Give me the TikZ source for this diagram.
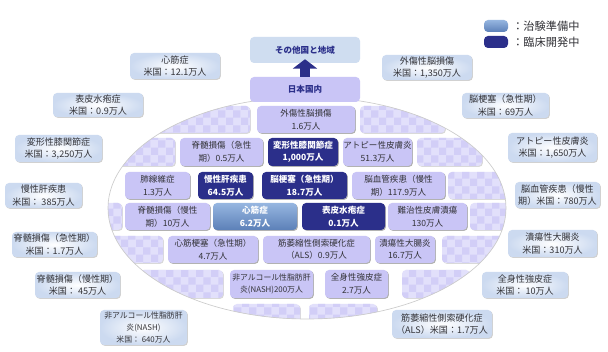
\documentclass[tikz,border=0pt]{standalone}
\usepackage{fontspec}
\setmainfont{Noto Sans CJK JP}
\usetikzlibrary{shadows,patterns,arrows.meta}
\definecolor{lav}{RGB}{201,197,246}
\definecolor{navy}{RGB}{43,47,138}
\definecolor{lbA}{RGB}{150,182,224}
\definecolor{lbB}{RGB}{92,128,184}
\definecolor{emp}{RGB}{226,224,251}
\definecolor{empc}{RGB}{210,206,247}
\definecolor{usc}{RGB}{204,218,240}
\definecolor{oth}{RGB}{207,221,240}
\definecolor{txt}{RGB}{50,50,55}
\newcommand\fbrick{\fontsize{6.4pt}{9.4pt}\selectfont}
\newcommand\fus{\fontsize{6.8pt}{9.4pt}\selectfont}
\newcommand\fsmall{\fontsize{5.9pt}{9.2pt}\selectfont}
\newcommand\flg{\fontsize{8.4pt}{10pt}\selectfont}
\newcommand\bx[7]{\node[#1, minimum width={(#4-#2)*0.75pt}, minimum height={(#5-#3)*0.75pt}] (#6) at ({(#2+#4)/2},{(#3+#5)/2}) {#7};}
\tikzset{
  box/.style={rounded corners=3pt, inner sep=0pt, align=center, font=\fbrick, text=txt},
  shad/.style={drop shadow={shadow xshift=.7pt, shadow yshift=-.7pt, opacity=#1, fill=black}},
  lavb/.style={box, fill=lav, shad=.3},
  darkb/.style={box, fill=navy, text=white, font=\fbrick\bfseries, shad=.3},
  blueb/.style={box, top color=lbA, bottom color=lbB, text=white, font=\fbrick\bfseries, shad=.3},
  emptyb/.style={box, fill=emp, shad=.15, postaction={pattern=checkerboard, pattern color=empc}},
  usb/.style={box, font=\fus, inner color=white, outer color=usc, shad=.18},
}
\begin{document}
\begin{tikzpicture}[x=0.75pt,y=-0.75pt]
\useasboundingbox[fill=white] (0,0) rectangle (608,352);
% ellipse with bricks
\begin{scope}
\clip (307,208) ellipse [x radius=199, y radius=111];
\bx{emptyb}{150}{106}{250}{133}{e1a}{}
\bx{lavb}{257}{106}{355}{133}{b11}{外傷性脳損傷\\1.6万人}
\bx{emptyb}{360}{106}{445}{133}{e1b}{}
\bx{emptyb}{100}{138}{175}{166}{e2a}{}
\bx{lavb}{180}{138}{263}{166}{b21}{脊髄損傷（急性\\期）0.5万人}
\bx{darkb}{268}{138}{338}{166}{d22}{変形性膝関節症\\1,000万人}
\bx{lavb}{343}{138}{412}{166}{b23}{アトピー性皮膚炎\\51.3万人}
\bx{emptyb}{417}{138}{482}{166}{e2b}{}
\bx{lavb}{125}{172}{190}{199}{b31}{肺線維症\\1.3万人}
\bx{darkb}{198}{172}{253}{199}{d32}{慢性肝疾患\\64.5万人}
\bx{darkb}{262}{172}{347}{199}{d33}{脳梗塞（急性期）\\18.7万人}
\bx{lavb}{352}{172}{445}{199}{b34}{脳血管疾患（慢性\\期）117.9万人}
\bx{emptyb}{448}{172}{512}{199}{e3b}{}
\bx{emptyb}{95}{203}{122}{230}{e4a}{}
\bx{lavb}{125}{203}{210}{230}{b41}{脊髄損傷（慢性\\期）10万人}
\bx{blueb}{213}{203}{297}{230}{c42}{心筋症\\6.2万人}
\bx{darkb}{302}{203}{385}{230}{d43}{表皮水疱症\\0.1万人}
\bx{lavb}{388}{203}{467}{230}{b44}{難治性皮膚潰瘍\\130万人}
\bx{emptyb}{470}{203}{515}{230}{e4b}{}
\bx{emptyb}{100}{236}{163}{263}{e5a}{}
\bx{lavb}{168}{236}{258}{263}{b51}{心筋梗塞（急性期）\\4.7万人}
\bx{lavb}{263}{236}{370}{263}{b52}{筋萎縮性側索硬化症\\（ALS）0.9万人}
\bx{lavb}{375}{236}{435}{263}{b53}{潰瘍性大腸炎\\16.7万人}
\bx{emptyb}{442}{236}{512}{263}{e5b}{}
\bx{emptyb}{140}{270}{223}{298}{e6a}{}
\bx{lavb,font=\fsmall}{230}{270}{313}{298}{b61}{非アルコール性脂肪肝\\炎(NASH)200万人}
\bx{lavb}{325}{270}{388}{298}{b62}{全身性強皮症\\2.7万人}
\bx{emptyb}{402}{270}{470}{298}{e6b}{}
\bx{emptyb}{233}{304}{300}{332}{e7a}{}
\bx{emptyb}{309}{304}{377}{332}{e7b}{}
\end{scope}
\draw[gray!40, line width=0.5pt] (307,208) ellipse [x radius=199, y radius=111];
% top boxes
\bx{box,fill=oth,text=navy,font=\fbrick\bfseries}{250}{37}{360}{63}{other}{その他国と地域}
\bx{box,fill=lav,text=navy,font=\fbrick\bfseries}{250}{77}{360}{102}{japan}{日本国内}
\draw[navy, line width=7.5pt, -{Triangle[width=18pt,length=7pt]}, shorten >=-3pt] (japan.north) -- (other.south);
% legend
\bx{box,top color=lbA,bottom color=lbB}{484}{20}{508}{32}{lgA}{}
\bx{box,fill=navy}{484}{36}{508}{48}{lgB}{}
\node[anchor=west, font=\flg, text=txt, inner sep=0pt] (lgAt) at (512,26) {：治験準備中};
\node[anchor=west, font=\flg, text=txt, inner sep=0pt] (lgBt) at (512,42) {：臨床開発中};
% US boxes
\bx{usb}{130}{53}{220}{79}{u1}{心筋症\\米国：12.1万人}
\bx{usb}{53}{93}{143}{117}{u2}{表皮水疱症\\米国：0.9万人}
\bx{usb}{382}{55}{472}{80}{u3}{外傷性脳損傷\\米国：1,350万人}
\bx{usb}{462}{93}{549}{118}{u4}{脳梗塞（急性期）\\米国：69万人}
\bx{usb}{15}{135}{102}{162}{u5}{変形性膝関節症\\米国：3,250万人}
\bx{usb}{5}{183}{82}{208}{u6}{慢性肝疾患\\米国： 385万人}
\bx{usb}{12}{232}{97}{257}{u7}{脊髄損傷（急性期）\\米国：1.7万人}
\bx{usb}{35}{272}{120}{298}{u8}{脊髄損傷（慢性期）\\米国： 45万人}
\bx{usb,font=\fsmall}{100}{310}{187}{345}{u9}{非アルコール性脂肪肝\\炎(NASH)\\米国： 640万人}
\bx{usb}{508}{133}{597}{162}{u10}{アトピー性皮膚炎\\米国：1,650万人}
\bx{usb}{515}{182}{600}{208}{u11}{脳血管疾患（慢性\\期）米国：780万人}
\bx{usb}{508}{230}{597}{257}{u12}{潰瘍性大腸炎\\米国：310万人}
\bx{usb}{482}{272}{568}{298}{u13}{全身性強皮症\\米国： 10万人}
\bx{usb}{392}{310}{492}{338}{u14}{筋萎縮性側索硬化症\\（ALS）米国：1.7万人}
\end{tikzpicture}
\end{document}
